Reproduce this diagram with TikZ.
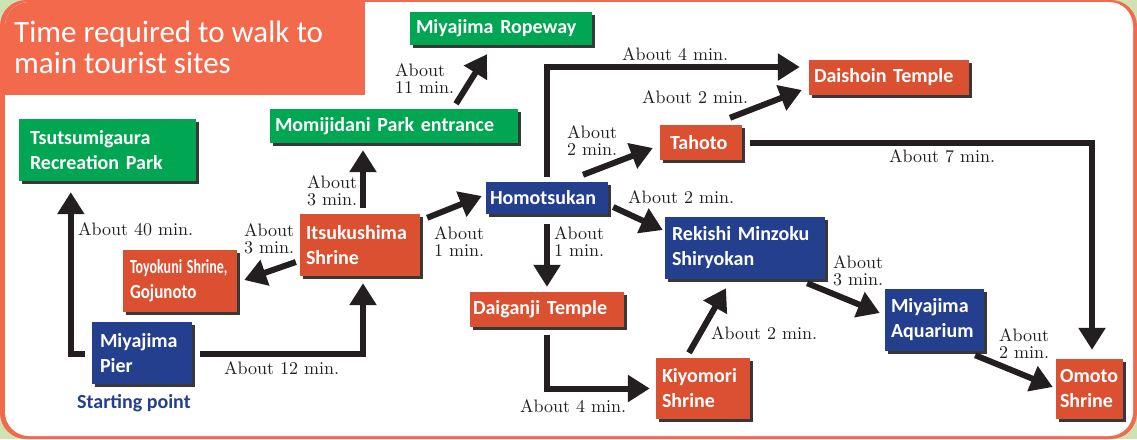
\documentclass[tikz,border=0pt]{standalone}
\usepackage{fontspec}
\newfontfamily\carl{Carlito}
\newfontfamily\lmten{lmroman10-regular.otf}
\usetikzlibrary{arrows.meta,calc,shadows}
\definecolor{bggreen}{HTML}{CFE3B2}
\definecolor{frameor}{HTML}{F26A4B}
\definecolor{gboxc}{HTML}{00A651}
\definecolor{rboxc}{HTML}{DB5031}
\definecolor{bboxc}{HTML}{233F8E}
\definecolor{arrowc}{HTML}{231F20}
\definecolor{shadowc}{HTML}{383838}
\tikzset{
  site/.style={rectangle, inner ysep=0pt, text=white, align=left,
    font=\carl\bfseries\fontsize{20}{25}\selectfont,
    general shadow={fill=shadowc, shadow xshift=3pt, shadow yshift=-3pt}},
  gsite/.style={site, fill=gboxc},
  rsite/.style={site, fill=rboxc},
  bsite/.style={site, fill=bboxc},
  lab/.style={font=\lmten\fontsize{18}{16.5}\selectfont, inner sep=0pt, align=left, text=arrowc, anchor=base west},
  arr/.style={draw=arrowc, line width=6pt, line join=miter, -{Triangle[length=22pt,width=26pt]}}
}
\begin{document}
\begin{tikzpicture}[x=1pt,y=-1pt]
\useasboundingbox (0,0) rectangle (1137,439);
% frame
\fill[bggreen] (0,0) rectangle (1137,439);
\fill[frameor, rounded corners=26pt] (0,0) rectangle (1137,439);
\fill[white, rounded corners=24pt] (5,2) rectangle (1133,436);
\begin{scope}
  \clip[rounded corners=24pt] (5,2) rectangle (1133,436);
  \fill[frameor] (0,0) rectangle (365,95);
\end{scope}
\node[anchor=base west, font=\carl\fontsize{31}{31}\selectfont, text=white, align=left, inner sep=0pt] (title) at (14,73) {Time required to walk to\\main tourist sites};

% sites
\node[gsite, minimum width=182pt, minimum height=33pt, inner xsep=6pt, text width=170pt] (rope) at (501,28.5) {Miyajima~Ropeway};
\node[gsite, minimum width=177pt, minimum height=62pt, inner xsep=11pt, text width=155pt] (tsu) at (107.5,150) {Tsutsumigaura\\Recreation~Park};
\node[gsite, minimum width=248pt, minimum height=34pt, inner xsep=5pt, text width=238pt] (momi) at (394,126) {Momijidani~Park~entrance};
\node[rsite, minimum width=120pt, minimum height=62pt, inner xsep=6pt, text width=108pt] (itsu) at (360,245) {Itsukushima\\Shrine};
\node[rsite, minimum width=114pt, minimum height=62pt, inner xsep=7pt, text width=100pt] (toyo) at (180,281) {\scalebox{0.7}[1]{Toyokuni~Shrine,}\\\scalebox{0.85}[1]{Gojunoto}};
\node[bsite, minimum width=100pt, minimum height=62pt, inner xsep=8pt, text width=84pt] (pier) at (142,353) {Miyajima\\Pier};
\node[anchor=base west, inner sep=0pt, font=\carl\bfseries\fontsize{20}{24}\selectfont, text=bboxc] (start) at (77,408) {Starting point};
\node[bsite, minimum width=122pt, minimum height=32pt, inner xsep=4pt, text width=114pt] (homo) at (547,198) {Homotsukan};
\node[rsite, minimum width=82pt, minimum height=35pt, inner xsep=10pt, text width=62pt] (taho) at (701,142.5) {Tahoto};
\node[rsite, minimum width=160pt, minimum height=35pt, inner xsep=5pt, text width=150pt] (daisho) at (889,77.5) {Daishoin~Temple};
\node[bsite, minimum width=160pt, minimum height=62pt, inner xsep=7pt, text width=146pt] (rek) at (745,248) {Rekishi~Minzoku\\Shiryokan};
\node[rsite, minimum width=154pt, minimum height=35pt, inner xsep=3pt, text width=148pt] (daig) at (547,309.5) {Daiganji~Temple};
\node[rsite, minimum width=94pt, minimum height=61pt, inner xsep=6pt, text width=82pt] (kiyo) at (703,388.5) {Kiyomori\\Shrine};
\node[bsite, minimum width=99pt, minimum height=62pt, inner xsep=6pt, text width=87pt] (aqua) at (934.5,320) {Miyajima\\Aquarium};
\node[rsite, minimum width=67pt, minimum height=60pt, inner xsep=4pt, text width=59pt] (omoto) at (1089.5,389) {Omoto\\Shrine};

% connectors
\draw[arr] ($(pier.west)+(-7,1)$) -| ($(tsu.south west)+(52,11)$);
\draw[arr] ($(pier.east)+(8,1)$) -| ($(itsu.south)+(3,7)$);
\draw[arr] ($(itsu.west)+(-4,17)$) -- ($(toyo.east)+(7,-1)$);
\draw[arr] ($(itsu.north)+(3,-6)$) -- ($(momi.south)+(-31,7)$);
\draw[arr] ($(momi.north)+(62,-5)$) -- ($(rope.south)+(-14,9)$);
\draw[arr] ($(itsu.north east)+(7,4)$) -- ($(homo.west)+(-4,-2)$);
\draw[arr] ($(homo.north)+(0,-5)$) |- ($(daisho.west)+(-9,-10.5)$);
\draw[arr] ($(homo.north)+(36,-7)$) -- ($(taho.west)+(-7,5.5)$);
\draw[arr] ($(taho.north)+(29,-7)$) -- ($(daisho.west)+(-7,12.5)$);
\draw[arr] ($(taho.east)+(8,0)$) -| ($(omoto.north)+(2.5,-9)$);
\draw[arr] ($(homo.east)+(5,9)$) -- ($(rek.west)+(-2,-18)$);
\draw[arr] ($(homo.south)+(0,10)$) -- ($(daig.north)+(0,-5)$);
\draw[arr] ($(daig.south)+(0,8)$) |- ($(kiyo.west)+(-6,0)$);
\draw[arr] ($(kiyo.north)+(-14,-5)$) -- ($(rek.south)+(-19,9)$);
\draw[arr] ($(rek.south east)+(-18,4)$) -- ($(aqua.west)+(-5,-7)$);
\draw[arr] ($(aqua.south east)+(-9,4)$) -- ($(omoto.west)+(-3,-2)$);

% labels
\node[lab] (l40) at (78,235) {About 40 min.};
\node[lab] (l12) at (224,374) {About 12 min.};
\node[lab] (ltoyo) at (244,253) {About\\3 min.};
\node[lab] (lmomi) at (307,205) {About\\3 min.};
\node[lab] (lrope) at (395,93) {About\\11 min.};
\node[lab] (lhomo) at (434,256) {About\\1 min.};
\node[lab] (lfourtop) at (622,60) {About 4 min.};
\node[lab] (ltaho) at (567,155) {About\\2 min.};
\node[lab] (ltwods) at (642,103) {About 2 min.};
\node[lab] (lseven) at (889,162) {About 7 min.};
\node[lab] (ltworek) at (628,203) {About 2 min.};
\node[lab] (ldaig) at (554,256) {About\\1 min.};
\node[lab] (lfourbot) at (520,412) {About 4 min.};
\node[lab] (ltwokiyo) at (711,339) {About 2 min.};
\node[lab] (laqua) at (833,285) {About\\3 min.};
\node[lab] (lomoto) at (999,358) {About\\2 min.};
\end{tikzpicture}
\end{document}
